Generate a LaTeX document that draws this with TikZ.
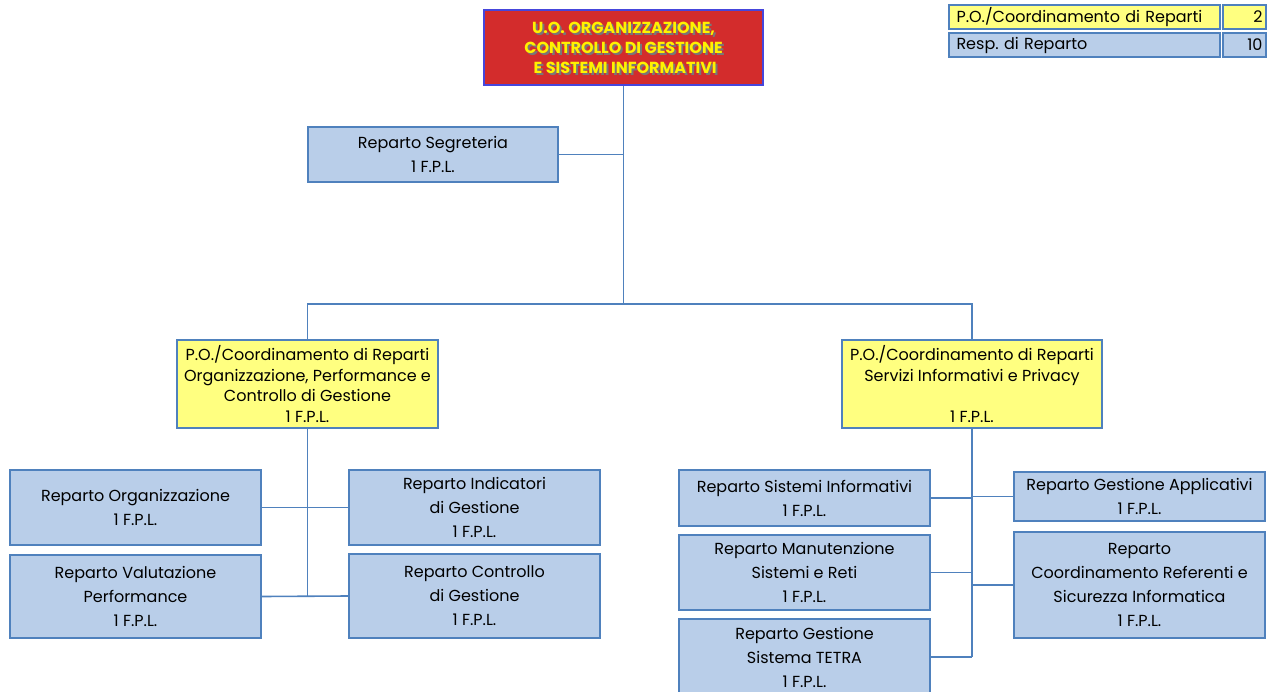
\documentclass[tikz,border=0pt]{standalone}
\usepackage{fontspec}
\setmainfont{Poppins}
\usepackage{tikz}
\frenchspacing

\definecolor{blufill}{RGB}{185,206,233}
\definecolor{bluline}{RGB}{79,129,189}
\definecolor{ylwfill}{RGB}{255,255,128}
\definecolor{titlered}{RGB}{211,44,44}
\definecolor{titleblu}{RGB}{70,70,220}
\definecolor{shadowgr}{RGB}{120,120,120}

\tikzset{
  unit/.style={draw=bluline, line width=1.1pt, align=center, inner sep=0pt,
    font=\fontsize{12}{18}\selectfont},
  blubox/.style={unit, fill=blufill},
  ylwbox/.style={unit, fill=ylwfill, font=\fontsize{12}{15.5}\selectfont},
  link/.style={draw=bluline, line width=1.2pt},
  titletext/.style={align=center, font=\bfseries\fontsize{12}{15}\selectfont}
}

\begin{document}
\begin{tikzpicture}[x=0.75pt,y=-0.75pt]
    \useasboundingbox (0,0) rectangle (1271,692);

    % head of the unit %
    \node [draw=titleblu, line width=1.1pt, fill=titlered, minimum width=279*0.75pt,
      minimum height=75*0.75pt] (head) at (623.5,47.5) {};
    \node [titletext, text=shadowgr] (headshade) at (625.5,50)
      {U.O. ORGANIZZAZIONE,\\CONTROLLO DI GESTIONE\\ \ E SISTEMI INFORMATIVI};
    \node [titletext, text=yellow] (headtext) at (623.5,48)
      {U.O. ORGANIZZAZIONE,\\CONTROLLO DI GESTIONE\\ \ E SISTEMI INFORMATIVI};

    % legend %
    \node [ylwbox, minimum width=271*0.75pt, minimum height=24*0.75pt, text width=256*0.75pt,
      align=left] (lgpo) at (1084.5,17) {P.O./Coordinamento di Reparti};
    \node [ylwbox, minimum width=43*0.75pt, minimum height=24*0.75pt, text width=36*0.75pt,
      align=right] (lgponum) at (1244.5,17) {2};
    \node [blubox, minimum width=271*0.75pt, minimum height=24*0.75pt, text width=256*0.75pt,
      align=left] (lgresp) at (1084.5,45) {Resp. di Reparto};
    \node [blubox, minimum width=43*0.75pt, minimum height=24*0.75pt, text width=36*0.75pt,
      align=right] (lgrespnum) at (1244.5,45) {10};

    % first level %
    \node [blubox, minimum width=250*0.75pt, minimum height=55*0.75pt] (segr) at (433,154.5)
      {Reparto Segreteria\\1 F.P.L.};
    \node [ylwbox, minimum width=261*0.75pt, minimum height=88*0.75pt] (poleft) at (307.5,384)
      {P.O./Coordinamento di Reparti\\Organizzazione, Performance e\\Controllo di Gestione\\1 F.P.L.};
    \node [ylwbox, minimum width=260*0.75pt, minimum height=88*0.75pt] (poright) at (972,384)
      {P.O./Coordinamento di Reparti\\Servizi Informativi e Privacy\\ \mbox{}\\1 F.P.L.};

    % left branch %
    \node [blubox, minimum width=251*0.75pt, minimum height=75*0.75pt] (organ) at (135.5,507.5)
      {Reparto Organizzazione\\1 F.P.L.};
    \node [blubox, minimum width=251*0.75pt, minimum height=83*0.75pt] (valut) at (135.5,596.5)
      {Reparto Valutazione\\Performance\\1 F.P.L.};
    \node [blubox, minimum width=251*0.75pt, minimum height=75*0.75pt] (indic) at (474.5,507.5)
      {Reparto Indicatori\\di Gestione\\1 F.P.L.};
    \node [blubox, minimum width=251*0.75pt, minimum height=84*0.75pt] (contr) at (474.5,596)
      {Reparto Controllo\\di Gestione\\1 F.P.L.};

    % right branch %
    \node [blubox, minimum width=251*0.75pt, minimum height=56*0.75pt] (sistinf) at (804.5,498)
      {Reparto Sistemi Informativi\\1 F.P.L.};
    \node [blubox, minimum width=251*0.75pt, minimum height=75*0.75pt] (manut) at (804.5,572.5)
      {Reparto Manutenzione\\Sistemi e Reti\\1 F.P.L.};
    \node [blubox, minimum width=251*0.75pt, minimum height=76*0.75pt] (tetra) at (804.5,657)
      {Reparto Gestione\\Sistema TETRA\\1 F.P.L.};
    \node [blubox, minimum width=251*0.75pt, minimum height=49*0.75pt] (applic) at (1139.5,496.5)
      {Reparto Gestione Applicativi\\1 F.P.L.};
    \node [blubox, minimum width=251*0.75pt, minimum height=106*0.75pt] (coordref) at (1139.5,585)
      {Reparto\\Coordinamento Referenti e\\Sicurezza Informatica\\1 F.P.L.};

    % connectors %
    \coordinate (bus) at (623.5,304);
    \draw [link] (head.south) -- (bus);
    \draw [link] (poleft.north) |- (bus) -| (poright.north);
    \draw [link] (segr.east) -- (segr.east -| head.south);
    \draw [link] (poleft.south) -- (poleft.south |- valut.east);
    \draw [link] (organ.east) -- (indic.west);
    \draw [link] (valut.east) -- (contr.west);
    \draw [link] (poright.south) -- (poright.south |- tetra.east);
    \draw [link] (sistinf.east) -- (sistinf.east -| poright.south);
    \draw [link] (manut.east) -- (manut.east -| poright.south);
    \draw [link] (tetra.east) -- (tetra.east -| poright.south);
    \draw [link] (applic.west) -- (applic.west -| poright.south);
    \draw [link] (coordref.west) -- (coordref.west -| poright.south);
\end{tikzpicture}
\end{document}
